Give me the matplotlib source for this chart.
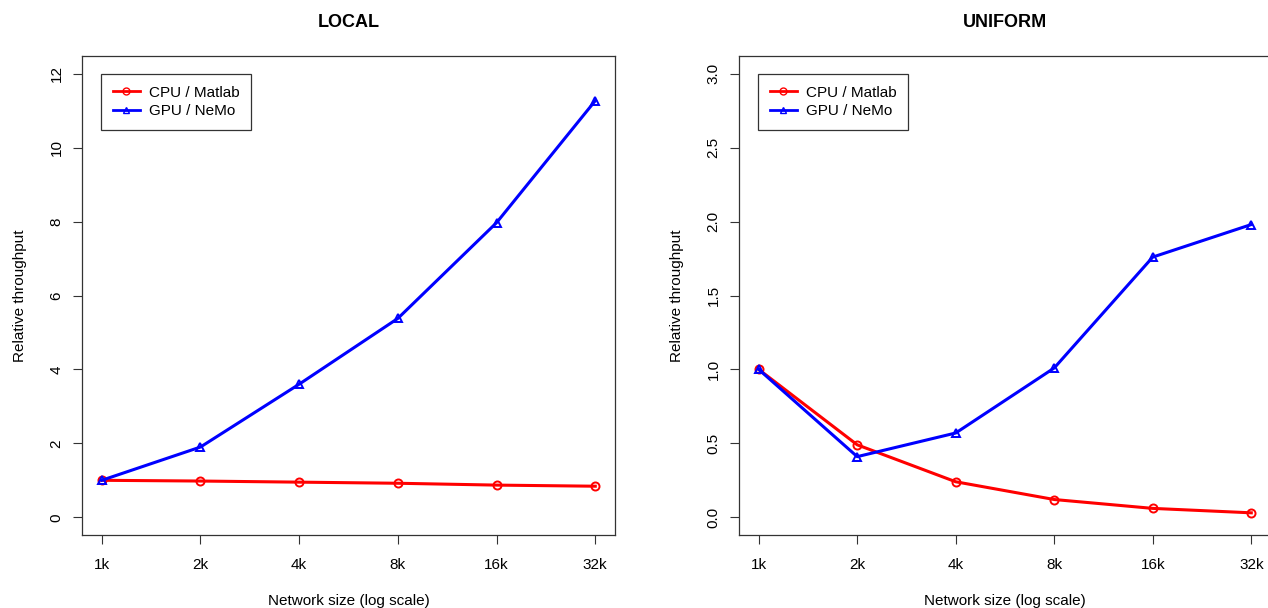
import matplotlib.pyplot as plt
from matplotlib.ticker import FixedLocator, NullLocator

plt.rcParams['font.family'] = ['Liberation Sans', 'DejaVu Sans']

sizes = [1, 2, 4, 8, 16, 32]
size_labels = ["1k", "2k", "4k", "8k", "16k", "32k"]

local_cpu = [1.0, 0.98, 0.95, 0.92, 0.87, 0.84]
local_gpu = [1.0, 1.90, 3.60, 5.38, 7.97, 11.27]

uniform_cpu = [1.0, 0.49, 0.24, 0.12, 0.06, 0.03]
uniform_gpu = [1.0, 0.41, 0.57, 1.01, 1.76, 1.98]

fig = plt.figure(figsize=(12.68, 6.08), dpi=100)

panels = [
    ("LOCAL", local_cpu, local_gpu, [0, 2, 4, 6, 8, 10, 12], "%d", (0, 12),
     [82 / 1268, 73 / 608, 533 / 1268, 479 / 608]),
    ("UNIFORM", uniform_cpu, uniform_gpu, [0.0, 0.5, 1.0, 1.5, 2.0, 2.5, 3.0], "%.1f", (0, 3),
     [739 / 1268, 73 / 608, 532 / 1268, 479 / 608]),
]

for title, cpu, gpu, yticks, fmt, (y0, y1), rect in panels:
    ax = fig.add_axes(rect)
    ax.plot(sizes, cpu, color='red', lw=2.2, marker='o', ms=5.8,
            mfc='none', mew=1.4, label='CPU / Matlab')
    ax.plot(sizes, gpu, color='blue', lw=2.2, marker='^', ms=6.3,
            mfc='none', mew=1.4, label='GPU / NeMo')
    ax.set_xscale('log', base=2)
    ax.set_xlim(2 ** -0.2, 2 ** 5.2)
    pad = (y1 - y0) * 0.04
    ax.set_ylim(y0 - pad, y1 + pad)
    ax.xaxis.set_major_locator(FixedLocator(sizes))
    ax.xaxis.set_minor_locator(NullLocator())
    ax.set_xticklabels(size_labels)
    ax.set_yticks(yticks)
    ax.set_yticklabels([fmt % v for v in yticks], rotation=90, va='center')
    ax.tick_params(direction='out', length=6.3, width=0.8, labelsize=11,
                   color='#333333', pad=10)
    ax.tick_params(axis='y', pad=7)
    for sp in ax.spines.values():
        sp.set_linewidth(0.9)
        sp.set_color('#333333')
    ax.set_title(title, fontsize=13, fontweight='bold', pad=21)
    ax.set_xlabel("Network size (log scale)", fontsize=11, labelpad=16)
    ax.set_ylabel("Relative throughput", fontsize=11, labelpad=16)
    leg = ax.legend(loc='upper left', bbox_to_anchor=(0.036, 0.962),
                    borderaxespad=0, fancybox=False, framealpha=1,
                    edgecolor='#333333', fontsize=11, handlelength=1.8,
                    handletextpad=0.6, borderpad=0.75, labelspacing=0.3)
    leg.get_frame().set_linewidth(0.9)
    for h in leg.legend_handles:
        h.set_markersize(5)
        h.set_markeredgewidth(1.0)
        h.set_linewidth(2.0)

fig.savefig("out.png", dpi=100)
